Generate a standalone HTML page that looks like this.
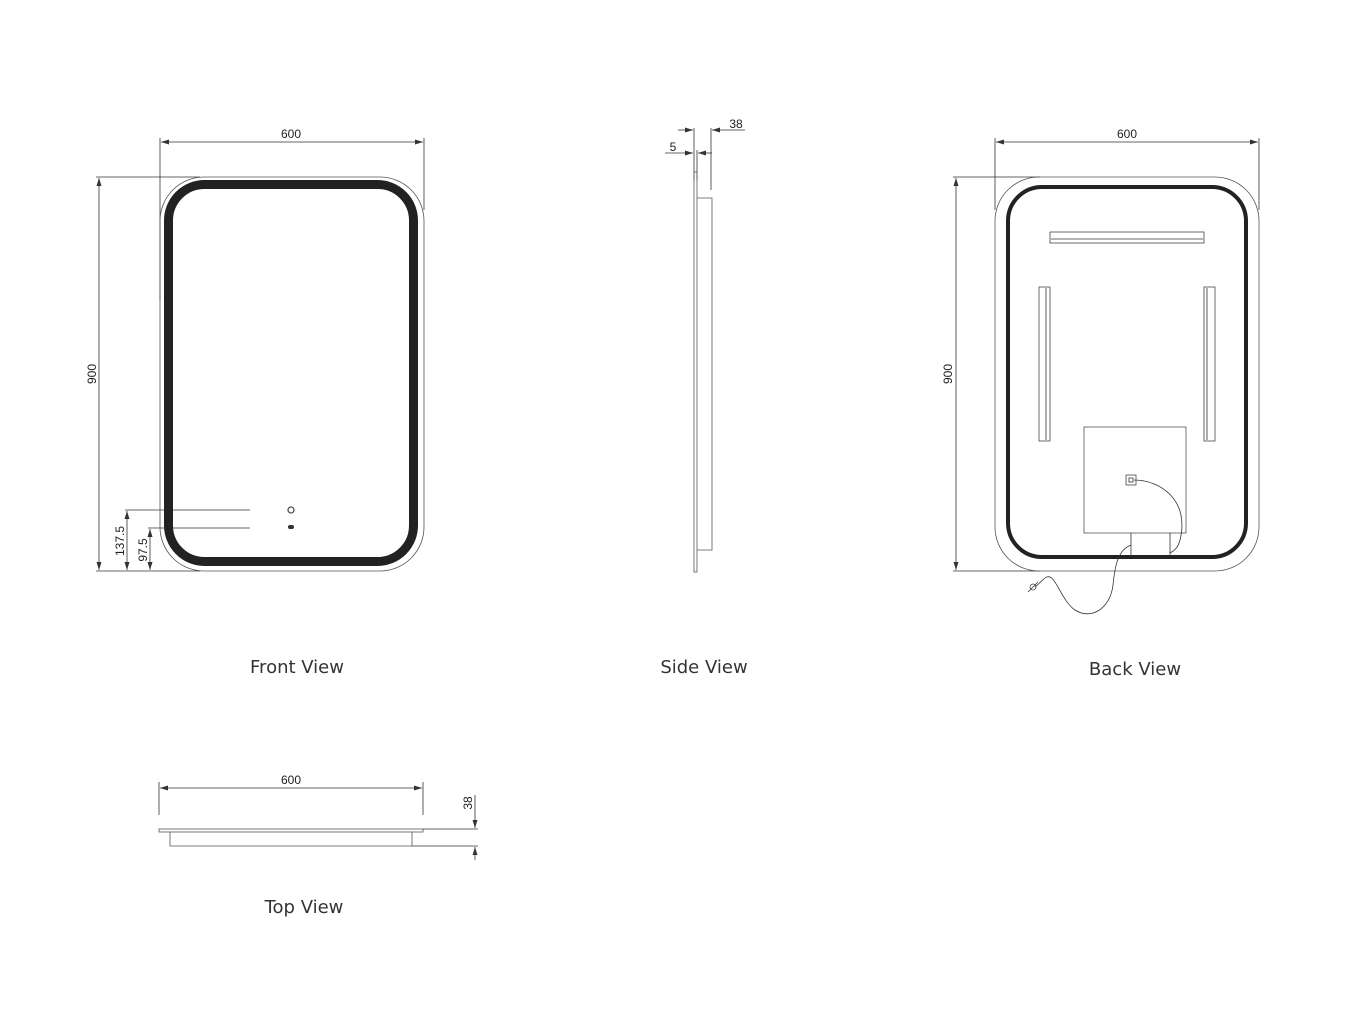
<!DOCTYPE html>
<html><head><style>body{margin:0;background:#fff}svg{display:block}</style></head><body>
<svg width="1364" height="1030" viewBox="0 0 1364 1030" xmlns="http://www.w3.org/2000/svg" font-family="Liberation Sans, sans-serif">
<defs><marker id="a" markerWidth="8" markerHeight="6" refX="8" refY="3" orient="auto-start-reverse" markerUnits="userSpaceOnUse"><path d="M0,0.5 L8,3 L0,5.5" fill="#333"/></marker></defs>
<g stroke="#333" stroke-width="0.8" fill="none">
<!-- Front view -->
<line x1="160" y1="138" x2="160" y2="300"/><line x1="424" y1="138" x2="424" y2="210"/>
<line x1="161" y1="142" x2="423" y2="142" marker-start="url(#a)" marker-end="url(#a)"/>
<line x1="96" y1="177" x2="200" y2="177"/><line x1="96" y1="571" x2="200" y2="571"/>
<line x1="99" y1="178" x2="99" y2="570" marker-start="url(#a)" marker-end="url(#a)"/>
<line x1="125" y1="510" x2="250" y2="510"/><line x1="148" y1="528" x2="250" y2="528"/>
<line x1="127" y1="511" x2="127" y2="570" marker-start="url(#a)" marker-end="url(#a)"/>
<line x1="150" y1="529" x2="150" y2="570" marker-start="url(#a)" marker-end="url(#a)"/>
<rect x="160" y="177" width="264" height="394" rx="44" stroke="#555"/>
<rect x="168.5" y="184.5" width="245" height="377" rx="36" stroke="#222" stroke-width="9"/>
<circle cx="291" cy="510" r="3" stroke="#444" stroke-width="1.2"/>
<!-- Side view -->
<line x1="694" y1="128" x2="694" y2="180"/><line x1="711" y1="128" x2="711" y2="190"/><line x1="697" y1="150" x2="697" y2="180"/>
<line x1="678" y1="130" x2="693" y2="130" marker-end="url(#a)"/><line x1="745" y1="130" x2="712" y2="130" marker-end="url(#a)"/>
<line x1="665" y1="153" x2="693" y2="153" marker-end="url(#a)"/><line x1="712" y1="153" x2="698" y2="153" marker-end="url(#a)"/>
<rect x="694" y="172" width="3" height="400" stroke="#555"/>
<path d="M697,198 H712 V550 H697" stroke="#555"/>
<!-- Back view -->
<line x1="995" y1="138" x2="995" y2="210"/><line x1="1259" y1="138" x2="1259" y2="210"/>
<line x1="996" y1="142" x2="1258" y2="142" marker-start="url(#a)" marker-end="url(#a)"/>
<line x1="953" y1="177" x2="1040" y2="177"/><line x1="953" y1="571" x2="1040" y2="571"/>
<line x1="956" y1="178" x2="956" y2="570" marker-start="url(#a)" marker-end="url(#a)"/>
<rect x="995" y="177" width="264" height="394" rx="44" stroke="#555"/>
<rect x="1008" y="187" width="238" height="370" rx="34" stroke="#222" stroke-width="4"/>
<rect x="1050" y="232" width="154" height="11" stroke="#444"/><line x1="1051" y1="239" x2="1203" y2="239"/>
<rect x="1039" y="287" width="11" height="154" stroke="#444"/><line x1="1046" y1="288" x2="1046" y2="440"/>
<rect x="1204" y="287" width="11" height="154" stroke="#444"/><line x1="1207" y1="288" x2="1207" y2="440"/>
<rect x="1084" y="427" width="102" height="106" stroke="#555"/>
<rect x="1126" y="475" width="10" height="10" stroke="#444"/><rect x="1129" y="478" width="4" height="4"/>
<path d="M1131,533 V556 M1170,533 V556"/>
<path d="M1134,480 C1160,480 1190,500 1180,540 C1178,548 1174,551 1170,553"/>
<path d="M1131,545 C1118,550 1115,565 1113,585 C1110,610 1090,620 1075,610 C1060,600 1055,570 1045,578 C1040,582 1038,585 1035,587"/>
<circle cx="1033" cy="587" r="3" stroke="#444"/><line x1="1028" y1="592" x2="1038" y2="582"/>
<!-- Top view -->
<line x1="159" y1="782" x2="159" y2="815"/><line x1="423" y1="782" x2="423" y2="815"/>
<line x1="160" y1="788" x2="422" y2="788" marker-start="url(#a)" marker-end="url(#a)"/>
<rect x="159" y="829" width="264" height="3" stroke="#555"/>
<path d="M170,832 V846 H412 V832" stroke="#555"/>
<line x1="423" y1="829" x2="478" y2="829"/><line x1="412" y1="846" x2="478" y2="846"/>
<line x1="475" y1="795" x2="475" y2="828" marker-end="url(#a)"/><line x1="475" y1="860" x2="475" y2="847" marker-end="url(#a)"/>
</g>
<rect x="288" y="525" width="6" height="4" rx="2" fill="#333"/>
<g font-size="12" fill="#222" text-anchor="middle">
<text x="291" y="138">600</text><text x="1127" y="138">600</text><text x="291" y="784">600</text>
<text x="736" y="128">38</text><text x="673" y="151">5</text>
<text transform="translate(96,374) rotate(-90)">900</text>
<text transform="translate(952,374) rotate(-90)">900</text>
<text transform="translate(124,541) rotate(-90)">137.5</text>
<text transform="translate(147,550) rotate(-90)">97.5</text>
<text transform="translate(472,803) rotate(-90)">38</text>
</g>
<g font-size="18" fill="#333" text-anchor="middle" font-family="DejaVu Sans, sans-serif">
<text x="297" y="673">Front View</text><text x="704" y="673">Side View</text>
<text x="1135" y="675">Back View</text><text x="304" y="913">Top View</text>
</g>
</svg>
</body></html>
